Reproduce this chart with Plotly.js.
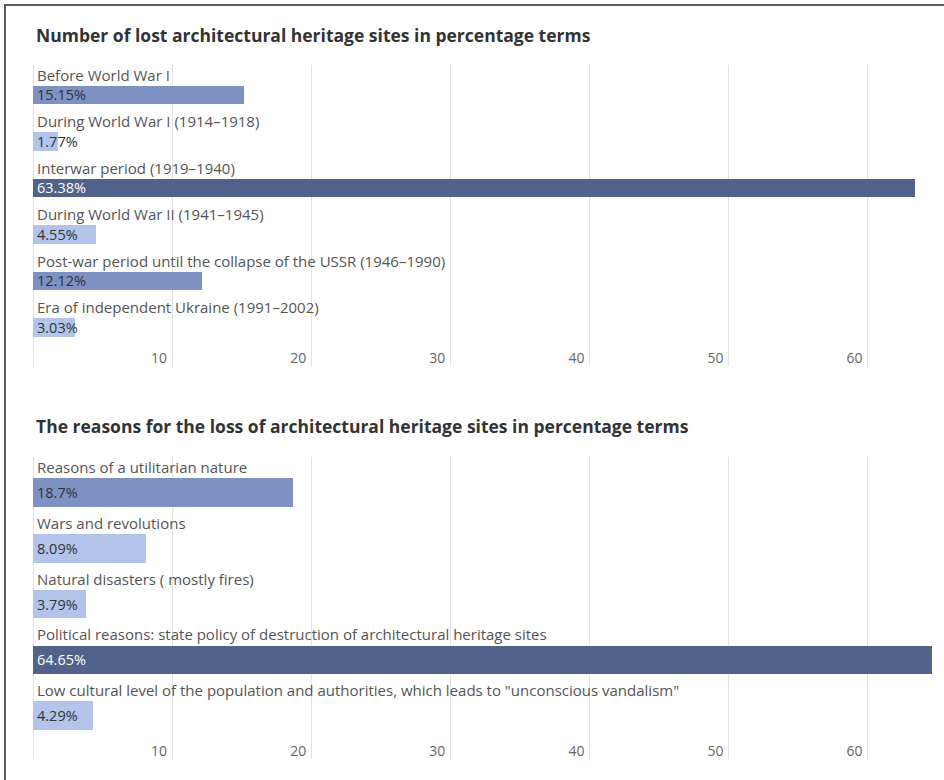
<!DOCTYPE html>
<html><head><meta charset="utf-8">
<script src="https://cdn.plot.ly/plotly-3.0.1.min.js"></script>
<style>
body{margin:0;background:#fff}
#chart{position:absolute;left:0;top:0;width:944px;height:780px}
#frame{position:absolute;left:4px;top:4px;width:960px;height:800px;border-left:2px solid #5c5c5c;border-top:2px solid #5c5c5c;pointer-events:none;z-index:10}
</style>
</head><body><div id="chart"></div><div id="frame"></div>
<script>
const title1 = "Number of lost architectural heritage sites in percentage terms";
const title2 = "The reasons for the loss of architectural heritage sites in percentage terms";
const periods = [
  "Before World War I",
  "During World War I (1914–1918)",
  "Interwar period (1919–1940)",
  "During World War II (1941–1945)",
  "Post-war period until the collapse of the USSR (1946–1990)",
  "Era of independent Ukraine (1991–2002)"
];
const periodValues = [15.15, 1.77, 63.38, 4.55, 12.12, 3.03];
const reasons = [
  "Reasons of a utilitarian nature",
  "Wars and revolutions",
  "Natural disasters ( mostly fires)",
  "Political reasons: state policy of destruction of architectural heritage sites",
  "Low cultural level of the population and authorities, which leads to \"unconscious vandalism\""
];
const reasonValues = [18.7, 8.09, 3.79, 64.65, 4.29];
const tickValues = [10, 20, 30, 40, 50, 60];

const FONT = "Open Sans, sans-serif";
function shade(v){ return v > 50 ? "#51638a" : (v > 10 ? "#7d92c3" : "#b2c4e9"); }
function textCol(v){ return v > 50 ? "#ffffff" : "#333333"; }

const pxPerUnit = 13.91;
const W = 944, L = 33, R = 4;
const xmax = (W - L - R) / pxPerUnit;

const traces = [
  {type:"bar", orientation:"h", x:periodValues, y:periods, xaxis:"x", yaxis:"y",
   marker:{color:periodValues.map(shade)}, width:0.4, hoverinfo:"skip"},
  {type:"bar", orientation:"h", x:reasonValues, y:reasons, xaxis:"x2", yaxis:"y2",
   marker:{color:reasonValues.map(shade)}, width:0.51, hoverinfo:"skip"}
];

const annotations = [];
function addLabels(cats, vals, xr, yr, shiftUp, fs, vfs){
  cats.forEach((c, i) => {
    annotations.push({xref:xr, yref:yr, x:0, y:c, xanchor:"left", yanchor:"middle",
      xshift:2, yshift:shiftUp, text:c, showarrow:false,
      font:{family:FONT, size:fs, color:"#555555"}});
    annotations.push({xref:xr, yref:yr, x:0, y:c, xanchor:"left", yanchor:"middle",
      xshift:2, yshift:0, text:vals[i] + "%", showarrow:false,
      font:{family:FONT, size:vfs, color:textCol(vals[i])}});
  });
}
addLabels(periods, periodValues, "x", "y", 20, 15, 14.5);
addLabels(reasons, reasonValues, "x2", "y2", 25.5, 15, 14.5);
annotations.push({xref:"paper", yref:"paper", x:(34-L)/(W-L-R), y:(780-35)/780, xanchor:"left", yanchor:"middle",
  text:"<b>"+title1+"</b>", showarrow:false, font:{family:FONT, size:17.5, color:"#333333"}});
annotations.push({xref:"paper", yref:"paper", x:(34-L)/(W-L-R), y:(780-426)/780, xanchor:"left", yanchor:"middle",
  text:"<b>"+title2+"</b>", showarrow:false, font:{family:FONT, size:17.5, color:"#333333"}});

function xax(){
  return {range:[0, xmax], tickvals:tickValues, ticktext:tickValues.map(String),
    showgrid:true, gridcolor:"#e3e3e3", gridwidth:1, zeroline:true, zerolinecolor:"#e3e3e3",
    showline:false, ticks:"", ticklabelposition:"inside left", ticklabelstandoff:-6, ticklabelshift:-5,
    tickfont:{family:FONT, size:14, color:"#666666"}, fixedrange:true};
}
function yax(domain, range, cats){
  return {domain:domain, range:range, type:"category", categoryorder:"array", categoryarray:cats,
    showticklabels:false, showgrid:false, zeroline:false, showline:false, ticks:"", fixedrange:true};
}
const x1 = xax(); x1.anchor = "y";
const x2 = xax(); x2.anchor = "y2";

const layout = {
  width:944, height:780,
  margin:{l:L, r:R, t:0, b:0},
  paper_bgcolor:"#ffffff", plot_bgcolor:"#ffffff",
  showlegend:false, bargap:0,
  xaxis:x1, xaxis2:x2,
  yaxis:yax([(780-366)/780, (780-65)/780], [5.83, -0.645], periods),
  yaxis2:yax([(780-759)/780, (780-457)/780], [4.776, -0.636], reasons),
  annotations:annotations
};
layout.yaxis.anchor = "x";
layout.yaxis2.anchor = "x2";

Plotly.newPlot("chart", traces, layout, {staticPlot:true, displayModeBar:false});
</script>
</body></html>
